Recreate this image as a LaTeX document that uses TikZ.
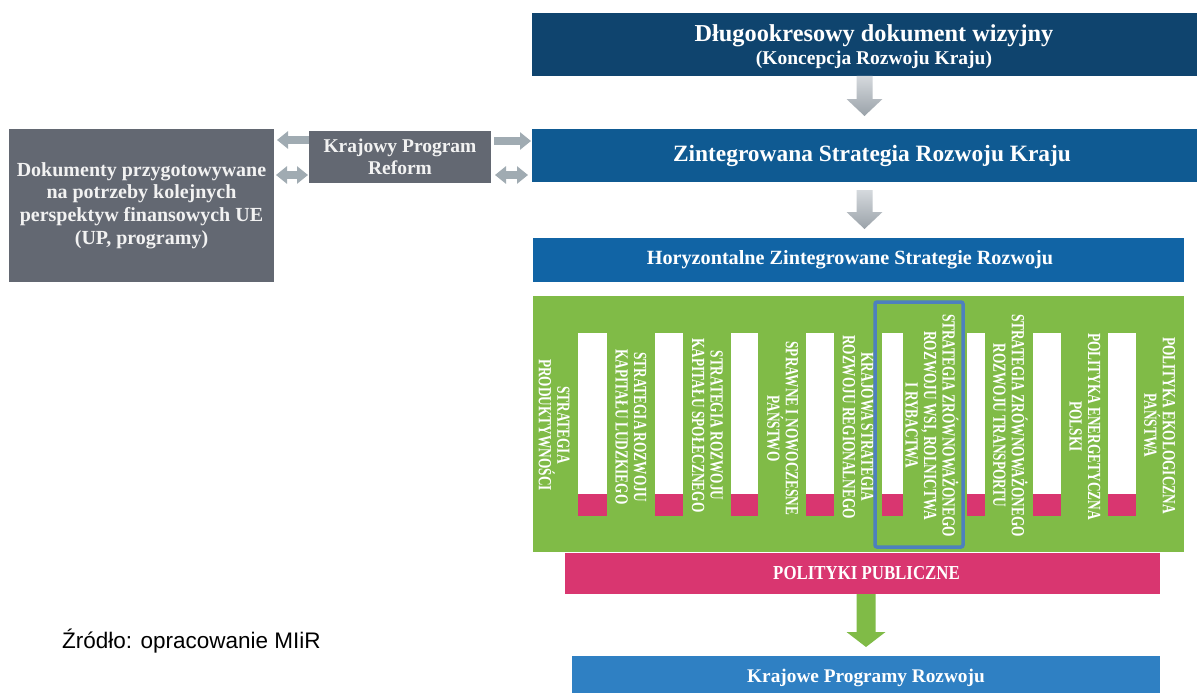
\documentclass[tikz,border=0pt]{standalone}
\usepackage{fontspec}
\setmainfont{Liberation Serif}
\newfontfamily\capsfont{Liberation Serif}[FakeStretch=0.85]
\newfontfamily\vertfont{Liberation Serif}[FakeStretch=0.72]
\newfontfamily\srcfont{Liberation Sans}
\usetikzlibrary{arrows.meta,calc}
\definecolor{topblue}{HTML}{0F446E}
\definecolor{zsrkblue}{HTML}{0F5A92}
\definecolor{hzsrblue}{HTML}{1164A5}
\definecolor{panelgreen}{HTML}{80BB47}
\definecolor{polpink}{HTML}{D93670}
\definecolor{kprblue}{HTML}{2F80C3}
\definecolor{boxgray}{HTML}{636872}
\definecolor{arrowgray}{HTML}{A0ABB2}
\definecolor{arrtop}{HTML}{D5D9DD}
\definecolor{arrbot}{HTML}{9AA2A9}
\definecolor{hlblue}{HTML}{4D80BE}
\begin{document}
\begin{tikzpicture}[x=1pt,y=-1pt,
  box/.style={rectangle,inner sep=0pt,outer sep=0pt,text=white,font=\bfseries},
  vtext/.style={rotate=-90,align=center,text=white,inner sep=0pt,
    font=\vertfont\bfseries\fontsize{18.5}{18.5}\selectfont},
  whitebar/.style={fill=white},
  pinkcap/.style={fill=polpink},
  garrow/.style={draw=arrowgray,line width=8.5pt,>={Triangle[width=17pt,length=11pt]}}
]
\useasboundingbox (0,0) rectangle (1197,693);
\fill[white] (0,0) rectangle (1197,693);

% top column of boxes
\node[box,fill=topblue,minimum width=665pt,minimum height=63pt,anchor=north west,
      align=center,font=\bfseries\fontsize{24.3}{23}\selectfont,text depth=0pt] (top) at (532,13)
  {\hspace*{19pt}Długookresowy dokument wizyjny\\\hspace*{19pt}{\fontsize{19.5}{23}\selectfont (Koncepcja Rozwoju Kraju)}};
\node[box,fill=zsrkblue,minimum width=665pt,minimum height=53pt,anchor=north west,
      font=\bfseries\fontsize{23.4}{26}\selectfont] (zsrk) at (532,129)
  {\hspace*{15pt}Zintegrowana Strategia Rozwoju Kraju};
\node[box,fill=hzsrblue,minimum width=651pt,minimum height=44pt,anchor=north west,
      font=\bfseries\fontsize{20.2}{24}\selectfont] (hzsr) at (533,238)
  {Horyzontalne Zintegrowane Strategie Rozwoju\hspace*{17pt}};

% big grey arrows
\shade[top color=arrtop,bottom color=arrbot]
  ($(top.south)+(-8,0)$) -- ($(top.south)+(-8,23)$) -- ($(top.south)+(-18,23)$)
  -- ($(zsrk.north)+(0,-13)$) -- ($(top.south)+(18,23)$) -- ($(top.south)+(8,23)$)
  -- ($(top.south)+(8,0)$) -- cycle;
\shade[top color=arrtop,bottom color=arrbot]
  ($(zsrk.south)+(-8,8)$) -- ($(zsrk.south)+(-8,30)$) -- ($(zsrk.south)+(-18,30)$)
  -- ($(zsrk.south |- hzsr.north)+(0,-9)$) -- ($(zsrk.south)+(18,30)$) -- ($(zsrk.south)+(8,30)$)
  -- ($(zsrk.south)+(8,8)$) -- cycle;

% left grey boxes
\node[box,fill=boxgray,minimum width=265pt,minimum height=153pt,anchor=north west,
      align=center,text=white!95!black,font=\bfseries\fontsize{20}{22.7}\selectfont] (left) at (9,129)
  {Dokumenty przygotowywane\\na potrzeby kolejnych\\perspektyw finansowych UE\\(UP, programy)};
\node[box,fill=boxgray,minimum width=182pt,minimum height=52pt,anchor=north west,
      align=center,text=white!95!black,font=\bfseries\fontsize{19.5}{22}\selectfont] (kpr) at (309,131)
  {Krajowy Program\\Reform};

% horizontal grey arrows
\coordinate (l1) at ([yshift=17pt]kpr.west);
\coordinate (l2) at ([yshift=-18pt]kpr.west);
\coordinate (r1) at ([yshift=16pt]kpr.east);
\coordinate (r2) at ([yshift=-18pt]kpr.east);
\draw[garrow,->,shorten >=3pt] (l1) -- (l1 -| left.east);
\draw[garrow,<->,shorten >=2pt,shorten <=1pt] (l2) -- (l2 -| left.east);
\draw[garrow,->,shorten >=1pt,shorten <=3pt] (r1) -- (r1 -| zsrk.west);
\draw[garrow,<->,shorten >=4pt,shorten <=4pt] (r2) -- (r2 -| zsrk.west);

% green panel
\node[box,fill=panelgreen,minimum width=651pt,minimum height=256pt,anchor=north west] (panel) at (533,296) {};

% white bars with pink caps
\foreach \xa/\xb [count=\i] in {578/607,655/683,731/758,806/834,882/903,967/985,1033/1061,1108/1136}{
  \fill[whitebar] (\xa,333) rectangle (\xb,494);
  \fill[pinkcap] (\xa,494) rectangle (\xb,516);
}

% vertical labels
\node[vtext] (s1) at (554,425) {STRATEGIA\\PRODUKTYWNOŚCI};
\node[vtext] (s2) at (631,427) {STRATEGIA ROZWOJU\\KAPITAŁU LUDZKIEGO};
\node[vtext] (s3) at (707.5,425.5) {STRATEGIA ROZWOJU\\KAPITAŁU SPOŁECZNEGO};
\node[vtext] (s4) at (782.5,428.5) {SPRAWNE I NOWOCZESNE\\PAŃSTWO};
\node[vtext] (s5) at (858,427) {KRAJOWA STRATEGIA\\ROZWOJU REGIONALNEGO};
\node[vtext] (s6) at (932,425.5) {STRATEGIA ZRÓWNOWAŻONEGO\\ROZWOJU WSI, ROLNICTWA\\I RYBACTWA};
\node[vtext] (s7) at (1010.5,425.5) {STRATEGIA ZRÓWNOWAŻONEGO\\ROZWOJU TRANSPORTU};
\node[vtext] (s8) at (1085,426.5) {POLITYKA ENERGETYCZNA\\POLSKI};
\node[vtext] (s9) at (1159.5,425.5) {POLITYKA EKOLOGICZNA\\PAŃSTWA};

% highlight frame
\draw[hlblue,line width=3.5pt,rounded corners=2pt] (875,302) rectangle (963,547);

% public policies bar
\node[box,fill=polpink,minimum width=595pt,minimum height=41pt,anchor=north west,
      font=\capsfont\bfseries\fontsize{19.8}{22}\selectfont] (pol) at (565,553)
  {\hspace*{8pt}POLITYKI PUBLICZNE};

% bottom box
\node[box,fill=kprblue,minimum width=588pt,minimum height=44pt,anchor=north west,
      font=\bfseries\fontsize{19.3}{22}\selectfont] (kprb) at (572,656)
  {Krajowe Programy Rozwoju};

% green arrow
\fill[panelgreen]
  ($(pol.south -| kprb.north)+(-9.5,0)$) -- ($(pol.south -| kprb.north)+(-9.5,38)$)
  -- ($(pol.south -| kprb.north)+(-19.5,38)$) -- ($(kprb.north)+(0,-9)$)
  -- ($(pol.south -| kprb.north)+(19.5,38)$) -- ($(pol.south -| kprb.north)+(9.5,38)$)
  -- ($(pol.south -| kprb.north)+(9.5,0)$) -- cycle;

% source
\node[anchor=base west,inner sep=0pt,font=\srcfont\fontsize{22.5}{26}\selectfont] (src) at (62,648)
  {Źródło: opracowanie MIiR};
\end{tikzpicture}
\end{document}
